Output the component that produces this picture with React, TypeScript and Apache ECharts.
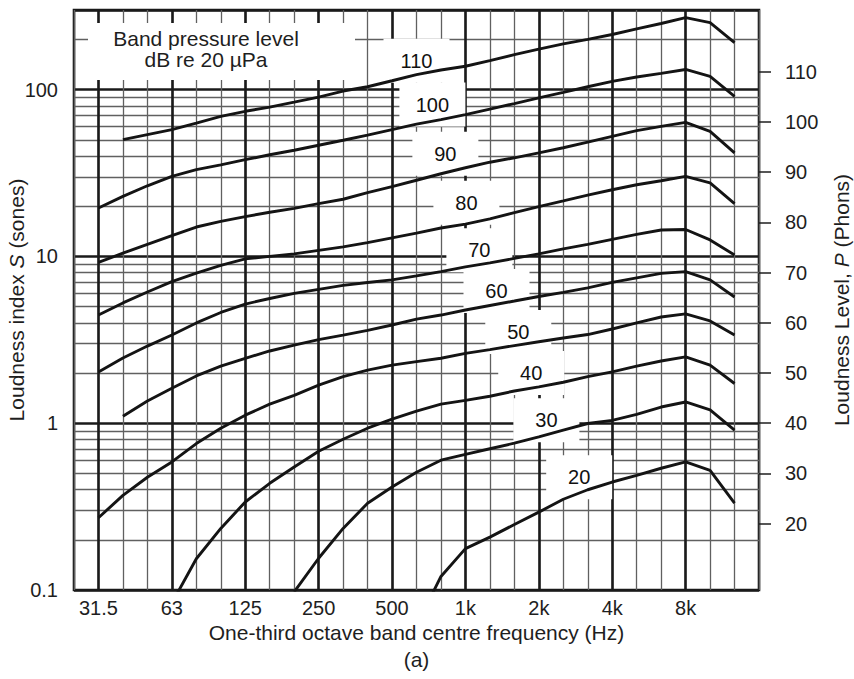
import React, { useEffect, useRef } from 'react';
import * as echarts from 'echarts';

// One-third octave band centre frequencies (x positions are band numbers relative to 1 kHz)
const BANDS = ['25', '31.5', '40', '50', '63', '80', '100', '125', '160', '200', '250', '315', '400', '500', '630', '800', '1k', '1.25k', '1.6k', '2k', '2.5k', '3.15k', '4k', '5k', '6.3k', '8k', '10k', '12.5k', '16k'];
const X_TICK_LABELS = ['31.5', '63', '125', '250', '500', '1k', '2k', '4k', '8k'];

// Band pressure level of each curve (dB re 20 µPa) and the band where it starts
const LEVELS = [110, 100, 90, 80, 70, 60, 50, 40, 30, 20];
const START_BANDS = ['40', '31.5', '31.5', '31.5', '31.5', '40', '31.5', '63', '200', '630'];

// Loudness index S (sones), one value per one-third octave band from the start band
const S110 = [50.1, 53.7, 57.5, 62.9, 69.1, 74.1, 78.5, 84.1, 90.2, 98, 104, 113, 123, 131, 138, 149, 162, 175, 188, 200, 214, 231, 249, 270, 252, 191];
const S100 = [19.5, 22.9, 26.5, 30.2, 33.1, 35.4, 38.0, 40.7, 43.3, 46.4, 49.7, 53.3, 57.5, 62.1, 66.0, 70.8, 76.4, 82.4, 89.2, 96.3, 104, 112, 119, 125, 132, 120, 91.2];
const S90 = [9.2, 10.45, 11.8, 13.3, 15.0, 16.2, 17.3, 18.4, 19.4, 20.7, 22.0, 24.1, 26.2, 28.6, 31.3, 34.0, 36.7, 39.0, 41.7, 44.8, 48.4, 52.4, 56.7, 60.2, 63.6, 56.2, 41.7];
const S80 = [4.45, 5.26, 6.12, 7.06, 7.93, 8.83, 9.66, 10.0, 10.35, 10.87, 11.4, 12.1, 12.9, 13.8, 14.8, 15.6, 16.8, 18.3, 19.9, 21.5, 23.3, 25.1, 26.9, 28.4, 30.2, 27.6, 20.7];
const S70 = [2.03, 2.46, 2.90, 3.38, 3.99, 4.61, 5.18, 5.59, 6.00, 6.34, 6.70, 6.98, 7.23, 7.64, 8.10, 8.65, 9.14, 9.72, 10.35, 11.1, 11.8, 12.65, 13.55, 14.4, 14.5, 12.55, 10.2];
const S60 = [1.10, 1.36, 1.62, 1.92, 2.20, 2.45, 2.71, 2.94, 3.17, 3.37, 3.60, 3.88, 4.21, 4.45, 4.77, 5.08, 5.40, 5.75, 6.08, 6.47, 6.98, 7.43, 7.91, 8.10, 7.23, 5.71];
const S50 = [0.271, 0.369, 0.474, 0.586, 0.755, 0.933, 1.117, 1.30, 1.47, 1.69, 1.90, 2.08, 2.23, 2.34, 2.45, 2.62, 2.76, 2.92, 3.08, 3.24, 3.40, 3.67, 3.99, 4.33, 4.52, 4.10, 3.38];
const S40 = [0.0834, 0.154, 0.234, 0.337, 0.436, 0.546, 0.679, 0.801, 0.933, 1.057, 1.18, 1.30, 1.37, 1.45, 1.56, 1.65, 1.76, 1.90, 2.03, 2.20, 2.36, 2.50, 2.23, 1.73];
const S30 = [0.0974, 0.155, 0.234, 0.331, 0.414, 0.508, 0.600, 0.651, 0.703, 0.759, 0.827, 0.908, 0.996, 1.04, 1.13, 1.25, 1.34, 1.20, 0.908];
const S20 = [0.0612, 0.1206, 0.177, 0.2075, 0.247, 0.293, 0.350, 0.399, 0.444, 0.487, 0.537, 0.586, 0.522, 0.332];
const CURVES = [S110, S100, S90, S80, S70, S60, S50, S40, S30, S20];

// Curve label anchors (band number, sones)
const LABEL_BAND = [-2.0, -1.35, -0.82, 0.04, 0.57, 1.27, 2.16, 2.69, 3.31, 4.65];
const LABEL_SONES = [149, 81.3, 41.3, 21.0, 10.9, 6.21, 3.52, 2.0, 1.04, 0.474];

// Axes
const S_MIN = 0.1;
const S_MAX = 300;
const PHON_TICKS = [20, 30, 40, 50, 60, 70, 80, 90, 100, 110];
const MINOR_SONES = [0.2, 0.3, 0.4, 0.5, 0.6, 0.7, 0.8, 0.9, 2, 3, 4, 5, 6, 7, 8, 9, 20, 30, 40, 50, 60, 70, 80, 90, 200];

const FONT = "'Liberation Sans', Arial, Helvetica, sans-serif";
const TEXT = '#1e1e1e';
const DARK = '#1a1a1a';
const GRID_GREY = '#606060';

const lg = Math.log10;
const REF = BANDS.indexOf('1k');
const bandPos = (b: string) => BANDS.indexOf(b) - REF;
const X_MIN = bandPos('25');
const X_MAX = bandPos('16k');
const Y_MIN = lg(S_MIN);
const Y_MAX = lg(S_MAX);
const phonToLog = (p: number) => ((p - 40) / 10) * Math.log10(2);
const logToPhon = (v: number) => 40 + (10 * v) / Math.log10(2);

export default function App() {
  const ref = useRef<HTMLDivElement>(null);

  useEffect(() => {
    if (!ref.current) return;
    const chart = echarts.init(ref.current, undefined, { renderer: 'svg' });

    const xLabelMap: Record<number, string> = {};
    X_TICK_LABELS.forEach((l) => {
      xLabelMap[bandPos(l)] = l;
    });

    const curveSeries = LEVELS.map((lv, i) => ({
      type: 'line',
      name: `${lv} dB`,
      z: 3,
      silent: true,
      symbol: 'none',
      showSymbol: false,
      clip: true,
      lineStyle: { color: '#141414', width: 2.9 },
      emphasis: { disabled: true },
      data: CURVES[i].map((s, k) => [bandPos(START_BANDS[i]) + k, lg(s)]),
    }));

    const option: any = {
      animation: false,
      textStyle: { fontFamily: FONT, color: TEXT },
      grid: {
        left: 74,
        top: 10,
        width: 685,
        height: 580,
        show: true,
        borderColor: DARK,
        borderWidth: 2.6,
        containLabel: false,
        outerBoundsMode: 'none',
      },
      xAxis: {
        type: 'value',
        min: X_MIN,
        max: X_MAX,
        interval: 1,
        axisLine: { show: false },
        axisTick: { show: false },
        splitLine: { show: true, lineStyle: { color: GRID_GREY, width: 1.3 } },
        axisLabel: {
          fontSize: 20,
          color: TEXT,
          margin: 8,
          formatter: (v: number) => xLabelMap[Math.round(v)] ?? '',
        },
        name: 'One-third octave band centre frequency (Hz)\n(a)',
        nameLocation: 'middle',
        nameGap: 29,
        nameMoveOverlap: false,
        nameTextStyle: { fontSize: 21, lineHeight: 27, color: TEXT, fontFamily: FONT },
      },
      yAxis: [
        {
          type: 'value',
          min: Y_MIN,
          max: Y_MAX,
          interval: 1,
          axisLine: { show: false },
          axisTick: { show: false },
          splitLine: { show: true, lineStyle: { color: DARK, width: 2.6 } },
          axisLabel: {
            fontSize: 20,
            color: TEXT,
            margin: 16,
            formatter: (v: number) => {
              const r = Math.round(v);
              if (Math.abs(v - r) > 1e-6) return '';
              return String(Number(Math.pow(10, r).toPrecision(6)));
            },
          },
          name: 'Loudness index {i|S} (sones)',
          nameLocation: 'middle',
          nameRotate: 90,
          nameGap: 47,
          nameMoveOverlap: false,
          nameTextStyle: {
            fontSize: 21,
            color: TEXT,
            fontFamily: FONT,
            rich: { i: { fontSize: 21, fontStyle: 'italic', color: TEXT, fontFamily: FONT } },
          },
        },
        {
          type: 'value',
          position: 'right',
          min: Y_MIN,
          max: Y_MAX,
          axisLine: { show: false },
          splitLine: { show: false },
          axisTick: {
            show: true,
            inside: false,
            length: 12,
            lineStyle: { color: TEXT, width: 1.5 },
            customValues: PHON_TICKS.map(phonToLog),
          },
          axisLabel: {
            fontSize: 20,
            color: TEXT,
            margin: 26,
            customValues: PHON_TICKS.map(phonToLog),
            formatter: (v: number) => String(Math.round(logToPhon(v))),
          },
          name: 'Loudness Level, {i|P} (Phons)',
          nameLocation: 'middle',
          nameRotate: 90,
          nameGap: 72,
          nameMoveOverlap: false,
          nameTextStyle: {
            fontSize: 21,
            color: TEXT,
            fontFamily: FONT,
            rich: { i: { fontSize: 21, fontStyle: 'italic', color: TEXT, fontFamily: FONT } },
          },
        },
      ],
      graphic: [
        {
          type: 'rect',
          z: 2,
          silent: true,
          shape: { x: 88, y: 23, width: 267, height: 57 },
          style: { fill: '#ffffff' },
        },
        {
          type: 'text',
          z: 2,
          silent: true,
          x: 206,
          y: 49,
          style: {
            text: 'Band pressure level\ndB re 20 µPa',
            align: 'center',
            verticalAlign: 'middle',
            fontSize: 21,
            lineHeight: 21,
            fontFamily: FONT,
            fill: TEXT,
          },
        },
      ],
      series: [
        {
          type: 'lines',
          coordinateSystem: 'cartesian2d',
          z: 1,
          silent: true,
          lineStyle: { color: GRID_GREY, width: 1.3, opacity: 1, curveness: 0 },
          data: MINOR_SONES.map((v) => ({ coords: [[X_MIN, lg(v)], [X_MAX, lg(v)]] })),
        },
        {
          type: 'lines',
          coordinateSystem: 'cartesian2d',
          z: 1,
          silent: true,
          lineStyle: { color: DARK, width: 2.6, opacity: 1, curveness: 0 },
          data: X_TICK_LABELS.map((l) => ({ coords: [[bandPos(l), Y_MIN], [bandPos(l), Y_MAX]] })),
        },
        {
          type: 'scatter',
          z: 2,
          silent: true,
          symbolSize: 1,
          itemStyle: { color: '#ffffff' },
          emphasis: { disabled: true },
          data: LEVELS.map((lv, i) => [LABEL_BAND[i], lg(LABEL_SONES[i]), String(lv)]),
          label: {
            show: true,
            position: 'inside',
            formatter: (p: any) => p.value[2],
            fontSize: 20,
            lineHeight: 22,
            color: '#111111',
            opacity: 1,
            textBorderWidth: 0,
            fontFamily: FONT,
            backgroundColor: '#ffffff',
            width: 34,
            align: 'center',
            padding: [11, 16],
          },
        },
        ...curveSeries,
      ],
    };

    chart.setOption(option);
    return () => chart.dispose();
  }, []);

  return (
    <div
      ref={ref}
      style={{ position: 'absolute', left: 0, top: 0, width: 854, height: 679, background: '#fff' }}
    />
  );
}
